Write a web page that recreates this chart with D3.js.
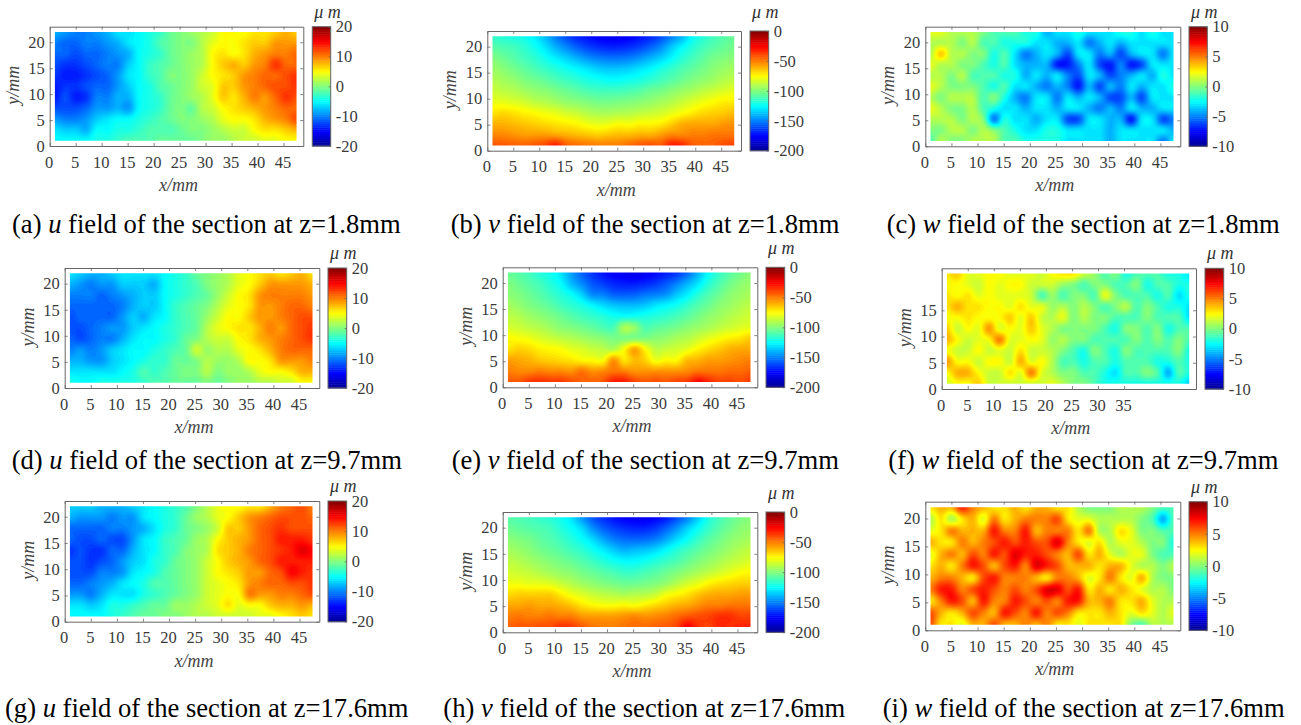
<!DOCTYPE html>
<html><head><meta charset="utf-8">
<script src="https://cdn.jsdelivr.net/npm/d3@7"></script>
<style>
html,body{margin:0;padding:0;background:#fff;overflow:hidden}
svg{display:block}
text{font-family:"Liberation Serif","Times New Roman",serif}
</style></head><body>
<svg id="chart" width="1301" height="725"></svg>
<script>
// Values. Rows run from y=22 down to y=1, columns from x=1 to x=47.5.
const gridX = [1, 47.5];
const gridY = [22, 1];
const xTicks = [0,5,10,15,20,25,30,35,40,45];
const xTicksShort = [0,5,10,15,20,25,30,35];
const yTicks = [0,5,10,15,20];
const yTicksShort = [0,5,10,15];
const uBar = [-20,-10,0,10,20];
const vBar = [-200,-150,-100,-50,0];
const wBar = [-10,-5,0,5,10];
const jetStops = ["#00008f","#0000ff","#00ffff","#ffff00","#ff0000","#800000"];
const jetAt = [0,.125,.375,.625,.875,1];

const fieldA = [
[-8,-9,-10,-10,-9,-8,-6,-6,-5,-4,-3,-1,0,1,2,3,5,5,5,6,6,7,8,7],
[-10,-11,-11,-10,-10,-9,-8,-6,-5,-4,-2,-1,0,0,2,4,5,5,6,7,7,9,9,9],
[-11,-11,-12,-11,-11,-10,-9,-8,-5,-4,-3,-1,0,1,2,5,6,5,6,8,9,10,10,11],
[-12,-13,-13,-12,-11,-10,-10,-7,-5,-3,-2,-1,0,1,2,5,7,8,7,9,10,13,11,11],
[-13,-14,-14,-13,-12,-11,-9,-6,-5,-3,-2,0,0,1,3,5,6,7,9,10,11,11,12,13],
[-14,-13,-13,-12,-11,-11,-9,-7,-5,-4,-2,-1,0,1,3,4,7,7,9,10,11,12,12,13],
[-14,-12,-14,-13,-10,-10,-8,-8,-5,-4,-3,-1,0,1,2,4,7,6,8,10,9,11,13,12],
[-12,-12,-12,-11,-9,-9,-8,-9,-5,-4,-3,-1,0,-1,2,3,5,6,7,8,9,10,11,11],
[-9,-10,-10,-9,-7,-6,-5,-5,-4,-3,-2,-1,0,0,1,2,4,5,5,6,8,9,10,12],
[-6,-7,-7,-8,-5,-5,-4,-4,-3,-2,-2,-2,-1,0,0,1,2,3,3,5,6,6,7,8],
[-5,-5,-5,-5,-4,-4,-3,-2,-2,-2,-1,-1,-1,-1,0,1,1,2,3,3,4,4,5,5]];
const fieldB = [
[-115,-118,-120,-122,-128,-138,-150,-160,-168,-172,-176,-178,-178,-176,-172,-168,-160,-150,-140,-125,-118,-112,-108,-105],
[-108,-110,-112,-116,-122,-130,-140,-148,-156,-162,-166,-168,-168,-166,-162,-156,-148,-136,-126,-118,-112,-108,-105,-102],
[-100,-104,-108,-112,-116,-122,-128,-134,-140,-146,-150,-152,-152,-150,-146,-140,-134,-126,-118,-112,-107,-102,-100,-98],
[-95,-98,-102,-106,-110,-114,-118,-122,-126,-130,-134,-136,-136,-134,-130,-126,-120,-115,-110,-106,-102,-98,-95,-93],
[-90,-93,-96,-100,-103,-106,-110,-113,-116,-120,-122,-124,-124,-122,-120,-116,-112,-108,-104,-100,-97,-94,-90,-88],
[-85,-88,-90,-93,-96,-98,-101,-104,-107,-110,-112,-112,-112,-110,-108,-104,-102,-98,-95,-92,-88,-85,-82,-80],
[-79,-80,-82,-84,-88,-90,-93,-96,-98,-100,-102,-102,-101,-100,-98,-96,-93,-90,-86,-82,-78,-75,-72,-72],
[-70,-68,-70,-73,-75,-78,-80,-84,-86,-90,-92,-92,-91,-90,-88,-86,-84,-80,-76,-72,-68,-66,-65,-62],
[-60,-60,-62,-64,-66,-68,-70,-72,-74,-78,-80,-79,-76,-77,-74,-74,-72,-66,-60,-58,-58,-58,-55,-54],
[-52,-52,-54,-56,-56,-56,-58,-60,-62,-64,-66,-64,-62,-62,-60,-60,-56,-52,-52,-50,-50,-48,-48,-48],
[-42,-42,-44,-44,-42,-38,-30,-42,-46,-48,-50,-50,-50,-46,-42,-40,-42,-30,-32,-42,-44,-44,-40,-38]];
const fieldC = [
[2,2,1,1,1,0,-1,-1,-1,-2,-2,-4,-3,-3,-2,-3,-3,-3,-2,-2,-3,-2,-3,-3],
[1,1,1,0,1,-1,-1,-2,-2,-2,-3,-3,-4,-4,-3,-5,-4,-3,-4,-3,-3,-3,-3,-3],
[1,3.5,1,1,0,0,-2,-1,-3,-5,-4,-3,-4,-6,-3,-3,-5,-4,-6,-4,-3,-3,-5,-3],
[2,1,1,0,0,-1,-2,-1,-3,-4,-4,-4,-7,-7,-5,-3,-6,-7,-5,-7,-6,-3,-3,-3],
[1,1,0,1,-1,-1,-1,-2,-2,-4,-3,-4,-3,-5,-6,-3,-4,-6,-5,-4,-3,-4,-2,-3],
[2,1,0,0,0,-1,-2,-1,-3,-3,-4,-5,-4,-5,-7,-4,-6,-4,-5,-3,-4,-3,-3,-2],
[1,0,1,1,1,-1,0,-2,-4,-5,-3,-3,-5,-3,-4,-3,-4,-6,-6,-4,-6,-3,-3,-3],
[2,1,0,0,1,-1,-2,-3,-3,-4,-3,-3,-4,-3,-3,-4,-5,-4,-5,-3,-4,-4,-3,-3],
[1,1,1,0,1,0,-5,-2,-3,-3,-4,-3,-3,-6,-6,-3,-3,-4,-4,-7,-3,-3,-6,-5],
[0,0,1,1,0,1,0,-1,-2,-3,-3,-2,-2,-3,-3,-3,-3,-4,-3,-3,-3,-3,-3,-4],
[-1,1,0,0,1,1,1,-1,-1,-2,-2,-2,-2,-3,-3,-3,-3,-4,-3,-3,-3,-3,-5,-3]];
const fieldD = [
[-6,-7,-8,-8,-7,-6,-6,-6,-6,-5,-4,-3,-1,0,1,2,4,5,6,7,6,7,8,6],
[-8,-9,-10,-9,-9,-7,-7,-7,-8,-5,-4,-3,-2,0,1,2,4,5,7,9,9,9,9,8],
[-10,-10,-10,-11,-10,-9,-8,-7,-7,-5,-4,-3,-2,-1,1,3,5,6,9,10,10,10,10,9],
[-11,-11,-11,-11,-11,-10,-8,-7,-7,-5,-3,-2,-1,0,2,4,5,6,9,9,10,11,11,10],
[-12,-11,-11,-11,-11,-9,-7,-8,-6,-5,-3,-2,-1,1,3,5,5,7,9,9,10,11,12,12],
[-12,-12,-11,-10,-9,-9,-7,-6,-5,-4,-3,-2,-1,2,4,5,6,6,8,10,9,11,12,13],
[-11,-12,-11,-10,-10,-8,-6,-5,-5,-4,-3,-1,0,2,3,3,5,6,8,9,10,11,12,13],
[-10,-9,-10,-9,-7,-6,-5,-5,-4,-3,-2,-1,3,1,2,2,4,5,6,8,10,11,11,11],
[-8,-8,-9,-9,-7,-6,-5,-4,-3,-3,-1,-1,0,2,1,1,2,5,5,6,9,9,9,10],
[-6,-6,-6,-6,-6,-5,-4,-2,-3,-2,-1,0,0,2,0,1,1,2,4,5,5,6,8,8],
[-4,-5,-5,-4,-4,-4,-4,-3,-2,-2,-1,-1,-1,0,-1,0,1,1,2,2,3,3,5,5]];
const fieldE = [
[-105,-108,-112,-118,-122,-130,-144,-156,-165,-172,-176,-178,-180,-178,-174,-170,-165,-155,-140,-125,-115,-108,-103,-98],
[-100,-104,-108,-112,-118,-125,-138,-148,-158,-163,-168,-170,-170,-168,-164,-158,-150,-140,-130,-118,-110,-103,-98,-95],
[-98,-100,-104,-108,-113,-118,-124,-134,-148,-150,-156,-157,-156,-152,-150,-146,-136,-128,-118,-110,-104,-98,-95,-92],
[-93,-96,-100,-103,-107,-112,-116,-120,-126,-132,-136,-138,-138,-136,-130,-126,-122,-115,-109,-104,-98,-95,-91,-88],
[-88,-90,-94,-97,-100,-104,-108,-112,-115,-118,-122,-123,-122,-120,-118,-115,-111,-107,-102,-97,-94,-90,-87,-84],
[-84,-85,-88,-90,-94,-98,-100,-103,-106,-110,-111,-92,-96,-110,-107,-105,-102,-98,-95,-92,-88,-85,-82,-80],
[-74,-76,-78,-82,-85,-88,-90,-93,-96,-98,-101,-100,-100,-100,-98,-96,-92,-90,-85,-80,-76,-72,-70,-65],
[-70,-66,-68,-72,-74,-76,-80,-82,-86,-88,-90,-76,-58,-74,-88,-86,-84,-80,-73,-68,-64,-60,-58,-58],
[-56,-58,-60,-64,-66,-68,-70,-74,-75,-76,-54,-70,-62,-66,-78,-74,-74,-62,-60,-56,-56,-54,-52,-50],
[-50,-52,-52,-50,-52,-52,-54,-48,-54,-52,-48,-50,-54,-54,-54,-54,-54,-52,-48,-48,-48,-46,-46,-44],
[-42,-42,-36,-34,-36,-36,-40,-44,-44,-42,-30,-30,-38,-42,-40,-42,-38,-36,-26,-32,-38,-38,-40,-36]];
const fieldF = [
[3,3.5,2,2,2.5,2.5,2,2,2,1.5,2.5,3,3,1.5,0.5,-1,0,-2,-1,-1,-1,-2,-2,-3],
[2.5,2.5,2,1.5,2.5,2,2.5,2.5,1.5,1.5,1.5,0.5,0,-1,0,0,-1,-1,0,-2,-1,-1,-2,-2],
[3,2.5,3,2,2.5,2,2,2,1.5,-1,0.5,-1,0,0,-1,2,0,-1,-1,-1,-2,-1,-3,-2],
[3,4,3,3,2.5,2.5,2,3,2,2,0.5,1,0,1,0,-1,0,1,-1,0,-1,-2,-2,-3],
[2.5,2.5,3,2.5,2.5,2.5,3.5,2,3.5,1.5,1,2,0,1,0,0,-1,-1,-1,0,-1,-1,-1,-3],
[3.5,1.5,2.5,2,4.5,2,2.5,2,3.5,2,1,0,0,0,0,-1,-2,0,0,-1,0,-2,-1,-1],
[4,2.5,1.5,2,2.5,5,2,2,2.5,2,0.5,1,0,0,-1,-1,-1,-1,0,-1,0,-1,0,-1],
[2.5,1.5,1.5,2.5,1.5,2,1.5,3,1.5,1.5,1,0,-1,-2,0,-1,-2,0,-1,-1,-1,-1,0,-2],
[4.5,2.5,2.5,1.5,2.5,2.5,1.5,4,2,2.5,1,-1,-1,-2,-1,-1,-2,-1,-1,-1,-2,-2,-1,-2],
[2.5,4,4,2.5,1.5,1.5,3,2,5,2,1,0,0,-1,-1,-2,-3,-1,-1,0,-1,-4,-1,-2],
[1.5,2.5,2.5,3.5,1.5,1.5,1.5,1.5,1.5,1.5,2,1,0,0,-1,-2,-2,-2,-2,-2,-2,-2,-2,-3.5]];
const fieldG = [
[-7,-7,-7,-8,-8,-8,-7,-6,-5,-4,-3,-2,0,2,4,5,5,6,6,8,10,11,12,10],
[-8,-9,-9,-9,-10,-9,-9,-6,-5,-4,-3,-1,1,2,4,5,7,9,10,11,12,12,12,11],
[-11,-11,-11,-11,-10,-10,-9,-8,-6,-4,-3,-1,0,1,3,7,7,9,11,12,13,12,12,12],
[-11,-12,-12,-11,-12,-12,-9,-6,-5,-3,-2,-1,1,2,5,7,8,9,11,12,14,14,14,13],
[-13,-12,-13,-13,-11,-11,-8,-6,-5,-3,-2,0,1,2,6,7,8,10,11,12,13,14,16,15],
[-12,-12,-13,-12,-11,-9,-7,-6,-4,-3,-1,0,1,3,5,7,8,9,11,12,14,14,14,14],
[-12,-12,-12,-10,-10,-9,-6,-5,-4,-2,-1,0,1,3,5,6,7,9,9,11,12,15,14,13],
[-11,-11,-10,-9,-8,-6,-5,-4,-2,-2,-1,0,1,3,4,5,6,9,10,11,11,12,12,13],
[-9,-9,-10,-8,-6,-6,-6,-4,-3,-2,-1,0,1,3,4,5,5,10,9,9,10,10,11,12],
[-6,-6,-7,-6,-4,-4,-3,-2,-1,-1,1,1,2,3,4,6,4,5,5,7,8,8,9,8],
[-5,-5,-5,-5,-4,-3,-2,-1,-1,0,0,1,2,2,3,3,3,3,4,4,5,6,7,6]];
const fieldH = [
[-108,-110,-112,-115,-118,-122,-130,-145,-158,-166,-172,-176,-178,-178,-175,-170,-160,-150,-135,-120,-112,-106,-102,-98],
[-104,-106,-108,-110,-112,-118,-124,-132,-146,-156,-162,-166,-168,-168,-164,-156,-146,-134,-124,-115,-108,-103,-98,-96],
[-98,-100,-102,-106,-109,-113,-118,-124,-132,-142,-150,-154,-155,-154,-150,-142,-132,-124,-115,-108,-103,-98,-95,-92],
[-93,-95,-98,-102,-105,-108,-112,-116,-122,-128,-135,-140,-138,-136,-132,-125,-118,-112,-107,-102,-98,-94,-90,-87],
[-88,-90,-93,-96,-99,-102,-105,-109,-113,-118,-122,-125,-125,-122,-118,-114,-110,-105,-100,-96,-92,-88,-85,-82],
[-84,-85,-87,-90,-93,-96,-98,-102,-105,-108,-111,-114,-114,-111,-108,-104,-100,-96,-92,-88,-84,-80,-76,-74],
[-78,-78,-80,-80,-82,-86,-90,-94,-97,-100,-102,-104,-104,-102,-100,-96,-90,-84,-80,-74,-70,-68,-66,-66],
[-68,-66,-66,-66,-66,-72,-78,-82,-86,-88,-90,-92,-90,-90,-86,-78,-74,-70,-64,-60,-58,-58,-56,-56],
[-58,-58,-56,-58,-58,-60,-64,-70,-74,-76,-76,-74,-76,-72,-68,-64,-60,-58,-54,-50,-50,-48,-48,-48],
[-50,-48,-50,-50,-48,-50,-50,-55,-56,-56,-56,-54,-52,-54,-52,-50,-46,-42,-40,-38,-34,-34,-38,-38],
[-44,-42,-42,-40,-40,-34,-36,-42,-48,-50,-50,-48,-46,-46,-44,-42,-38,-24,-34,-38,-32,-34,-32,-32]];
const fieldI = [
[3,4,4,7,5,4,3,3,4,3,4,4,3,3,1,0,0,0,1,1,1,0,-1,-1],
[1,3,1,3,4,2,5,3,4,5,5,5,6,3,2,2,1,1,1,1,0,-1,-4,-1],
[2,3,5,4,4,4,7,5,5,7,4,5,5,5,3,5,1,1,3,2,0,0,-1,-1],
[4,3,3,5,4,5,6,7,6,7,6,6,8,5,3,2,3,1,2,2,1,0,0,-2],
[2,4,5,4,6,5,7,6,8,7,7,6,5,4,6,3,4,2,1,2,2,0,-1,-1],
[3,4,3,5,7,6,4,6,7,5,8,7,6,4,4,4,3,4,4,2,1,1,0,1],
[4,5,5,4,3,6,7,5,5,5,4,3,5,5,4,2,3,5,3,2,4,1,0,0],
[5,7,7,5,6,7,6,5,6,5,6,8,8,6,7,3,4,3,4,3,2,1,1,0],
[3,5,7,6,4,7,5,5,7,6,5,6,5,7,7,4,4,5,3,3,4,2,1,1],
[6,4,3,4,6,5,4,7,6,5,7,5,6,5,3,3,3,4,3,2,3,2,1,2],
[6,3,3,2,4,4,6,4,4,5,4,5,3,3,2,3,3,3,3,0,-1,1,1,1]];

const captions = [
 ["(a) ","u"," field of the section at z=1.8mm"],["(b) ","v"," field of the section at z=1.8mm"],["(c) ","w"," field of the section at z=1.8mm"],
 ["(d) ","u"," field of the section at z=9.7mm"],["(e) ","v"," field of the section at z=9.7mm"],["(f) ","w"," field of the section at z=9.7mm"],
 ["(g) ","u"," field of the section at z=17.6mm"],["(h) ","v"," field of the section at z=17.6mm"],["(i) ","w"," field of the section at z=17.6mm"]];

// Layout: box [left, right, top, bottom], colourbar left and right, caption start and baseline
const panels = [
 {f:fieldA,bar:uBar,box:[49.7,303.3,26.7,146],cb:[312.3,330.7],cap:[12,233]},
 {f:fieldB,bar:vBar,box:[487.3,741,31,150.7],cb:[750,768.7],cap:[450.7,233]},
 {f:fieldC,bar:wBar,box:[925.3,1180.3,26.7,146.3],cb:[1189,1207.3],cap:[886.7,233]},
 {f:fieldD,bar:uBar,box:[64.7,319.3,268,388],cb:[328,346.7],cap:[11.7,469]},
 {f:fieldE,bar:vBar,box:[502.7,757.3,267.3,387.3],cb:[766,784.7],cap:[451.7,469]},
 {f:fieldF,bar:wBar,box:[941.7,1196,268.3,389],cb:[1205,1223.7],cap:[888.3,469],xt:xTicksShort,yt:yTicksShort},
 {f:fieldG,bar:uBar,box:[64.7,319.3,501,621.7],cb:[328,346.7],cap:[5,717]},
 {f:fieldH,bar:vBar,box:[502.7,757.3,512,632.3],cb:[766,784.7],cap:[443.3,717]},
 {f:fieldI,bar:wBar,box:[925.3,1180.3,501.7,630.3],cb:[1189,1207.3],cap:[882.7,717]}
];

const svg = d3.select("#chart");
const axisColor = "#666", textColor = "#3a3a3a", tickFont = 16.5, titleFont = 18;
const defs = svg.append("defs");

function styleAxis(g){
  g.attr("font-family",null).attr("font-size",null);
  g.selectAll("path.domain").attr("stroke",axisColor).attr("stroke-width",1);
  g.selectAll(".tick line").attr("stroke",axisColor).attr("stroke-width",.8);
  g.selectAll("text").attr("fill",textColor).attr("font-size",tickFont);
}

// Display surface: a smooth (Catmull-Rom) rendering through the values read for a panel.
function smoothField(rows, m){
  const ny = rows.length, nx = rows[0].length;
  const W = (nx-1)*m+1, H = (ny-1)*m+1, out = new Float64Array(W*H);
  const cr = (a,b,c,d,t)=>.5*((2*b)+(c-a)*t+(2*a-5*b+4*c-d)*t*t+(3*b-a-3*c+d)*t*t*t);
  const at = (r,c)=>rows[Math.max(0,Math.min(ny-1,r))][Math.max(0,Math.min(nx-1,c))];
  for(let j=0;j<H;j++){
    const r=Math.floor(j/m), tr=j/m-r;
    for(let i=0;i<W;i++){
      const c=Math.floor(i/m), tc=i/m-c;
      const col=[-1,0,1,2].map(k=>cr(at(r+k,c-1),at(r+k,c),at(r+k,c+1),at(r+k,c+2),tc));
      out[j*W+i]=cr(col[0],col[1],col[2],col[3],tr);
    }
  }
  return {values:out,W,H};
}

panels.forEach((p,i)=>{
  const [L,R,T,B] = p.box;
  const x = d3.scaleLinear([0,48.8],[L,R]);
  const y = d3.scaleLinear([0,23],[B,T]);
  const g = svg.append("g");
  const lo = p.bar[0], hi = p.bar[p.bar.length-1];
  const jet = d3.scaleLinear(jetAt.map(t=>lo+t*(hi-lo)),jetStops).clamp(true);

  // field
  const s = smoothField(p.f,6);
  const cx = d3.scaleLinear([.5,s.W-.5],gridX);
  const cy = d3.scaleLinear([.5,s.H-.5],gridY);
  const path = d3.geoPath(d3.geoTransform({point(a,b){this.stream.point(x(cx(a)),y(cy(b)));}}));
  const step = (hi-lo)/96;
  const levels = d3.range(-1,97).map(k=>lo+k*step);
  const contours = d3.contours().size([s.W,s.H]).thresholds(levels)(Array.from(s.values,v=>Math.max(lo,Math.min(hi,v))));
  defs.append("clipPath").attr("id","clip"+i).append("rect")
    .attr("x",x(gridX[0])).attr("y",y(gridY[0]))
    .attr("width",x(gridX[1])-x(gridX[0])).attr("height",y(gridY[1])-y(gridY[0]));
  g.append("g").attr("clip-path",`url(#clip${i})`)
   .append("g").style("filter","blur(.6px)")
   .selectAll("path").data(contours.filter(c=>c.coordinates.length)).join("path")
    .attr("d",path).attr("fill",c=>jet(c.value+step/2));

  // axes
  const xt = p.xt||xTicks, yt = p.yt||yTicks;
  const tk = 3, fmt = d=>String(d);
  g.append("g").attr("transform",`translate(0,${B})`)
   .call(d3.axisBottom(x).tickValues(xt).tickSizeInner(-tk).tickSizeOuter(0).tickPadding(10).tickFormat(fmt))
   .call(styleAxis).selectAll("text").attr("dx",-1);
  g.append("g").attr("transform",`translate(0,${T})`)
   .call(d3.axisTop(x).tickValues(xt).tickSizeInner(-tk).tickSizeOuter(0).tickFormat("")).call(styleAxis);
  g.append("g").attr("transform",`translate(${L},0)`)
   .call(d3.axisLeft(y).tickValues(yt).tickSizeInner(-tk).tickSizeOuter(0).tickPadding(5).tickFormat(fmt))
   .call(styleAxis);
  g.append("g").attr("transform",`translate(${R},0)`)
   .call(d3.axisRight(y).tickValues(yt).tickSizeInner(-tk).tickSizeOuter(0).tickFormat("")).call(styleAxis);

  g.append("text").attr("x",(L+R)/2+2).attr("y",B+45).attr("text-anchor","middle")
   .attr("font-style","italic").attr("font-size",titleFont).attr("fill","#444").text("x/mm");
  g.append("text").attr("transform",`translate(${L-31},${(T+B)/2-1}) rotate(-90)`).attr("text-anchor","middle")
   .attr("font-style","italic").attr("font-size",titleFont).attr("fill","#444").text("y/mm");

  // colourbar
  const [cl,cr] = p.cb;
  const cs = d3.scaleLinear([lo,hi],[B,T]);
  const n = 64, ds = (hi-lo)/n;
  g.append("g").selectAll("rect").data(d3.range(n)).join("rect")
    .attr("x",cl).attr("width",cr-cl)
    .attr("y",k=>cs(lo+(k+1)*ds)).attr("height",k=>cs(lo+k*ds)-cs(lo+(k+1)*ds)+.5)
    .attr("fill",k=>jet(lo+(k+.5)*ds));
  g.append("rect").attr("x",cl).attr("y",T).attr("width",cr-cl).attr("height",B-T)
    .attr("fill","none").attr("stroke",axisColor).attr("stroke-width",1);
  g.append("g").attr("transform",`translate(${cr},0)`)
   .call(d3.axisRight(cs).tickValues(p.bar).tickSizeInner(-2).tickSizeOuter(0).tickPadding(5).tickFormat(fmt))
   .call(styleAxis).call(a=>a.select("path.domain").remove());
  const unitUp = p.bar===vBar ? 13 : 9;
  g.append("text").attr("x",cl+2).attr("y",T-unitUp).attr("font-style","italic")
   .attr("font-size",18).attr("fill","#333").text("μ m");

  // caption
  const c = g.append("text").attr("x",p.cap[0]).attr("y",p.cap[1]).attr("font-size",26.6).attr("fill","#000");
  c.append("tspan").text(captions[i][0]);
  c.append("tspan").attr("font-style","italic").text(captions[i][1]);
  c.append("tspan").text(captions[i][2]);
});
</script>
</body></html>
